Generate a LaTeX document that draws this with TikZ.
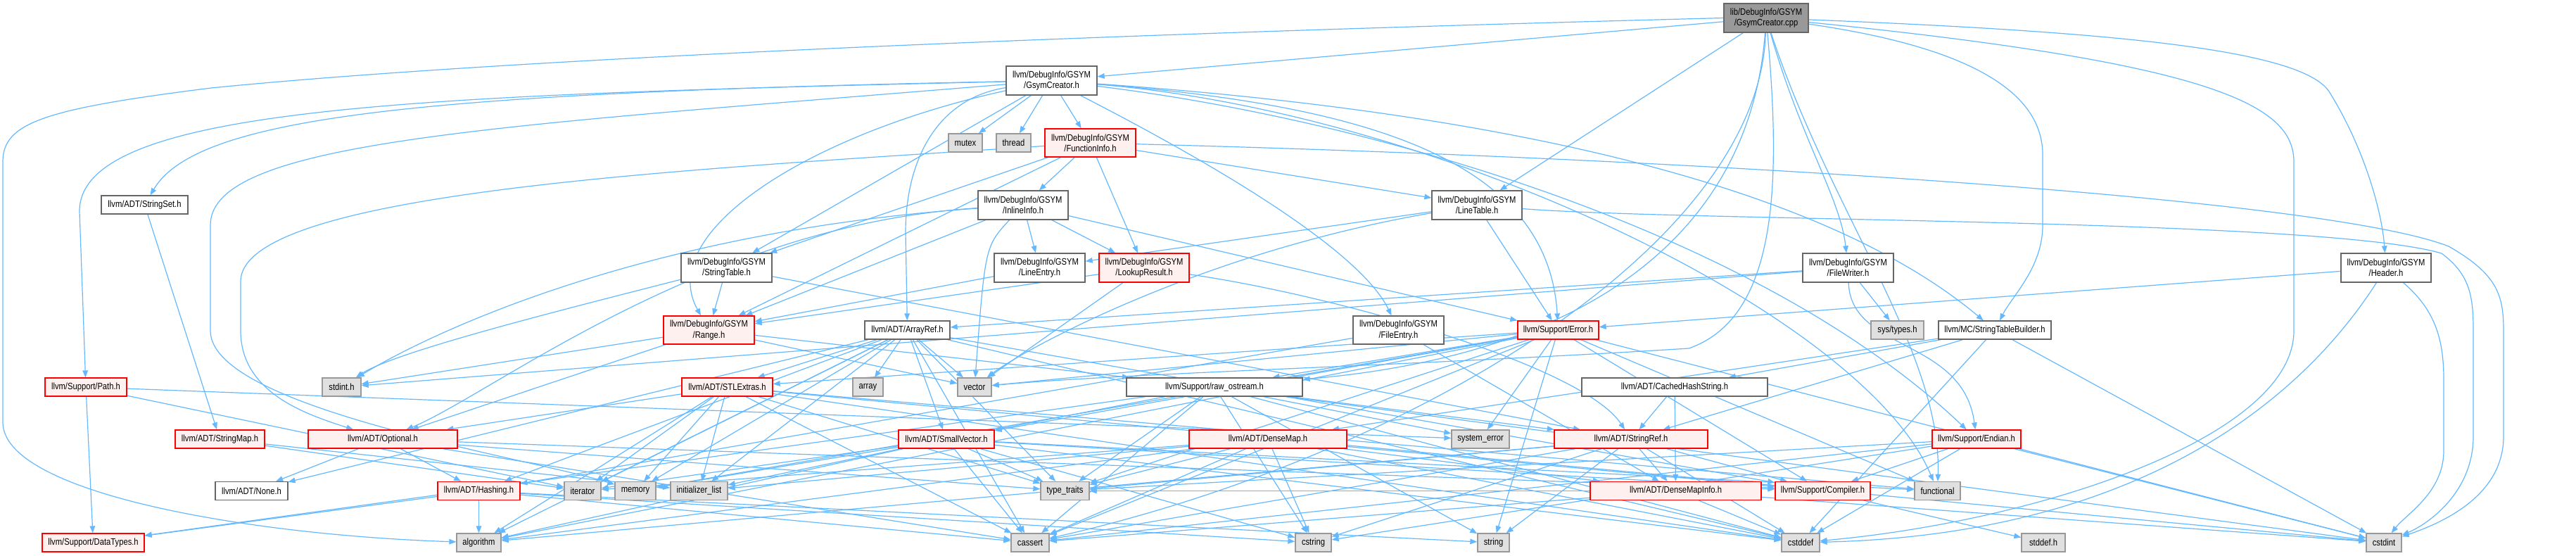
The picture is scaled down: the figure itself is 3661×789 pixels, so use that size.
\documentclass[tikz,border=0pt]{standalone}
\usepackage{fontspec}
\setmainfont{Liberation Sans}[FakeStretch=0.85]
\usetikzlibrary{arrows.meta}
\definecolor{edgec}{HTML}{63B8FF}
\definecolor{redfill}{HTML}{FFF0F0}
\definecolor{sysfill}{HTML}{E0E0E0}
\definecolor{bord}{HTML}{666666}
\definecolor{sysbord}{HTML}{999999}
\definecolor{rootfill}{HTML}{999999}
\pgfdeclarelayer{bg}\pgfsetlayers{bg,main}
\tikzset{
  base/.style={draw=bord, fill=white, line width=0.65pt, inner sep=0pt, align=center, font=\fontsize{6.6pt}{7.6pt}\selectfont},
  wbox/.style={base},
  rbox/.style={base, draw=red, fill=redfill},
  gbox/.style={base, draw=sysbord, fill=sysfill},
  rootbox/.style={base, fill=rootfill},
  sz/.style 2 args={minimum width=#1*0.5pt, minimum height=#2*0.5pt},
  e/.style={draw=edgec, line width=0.6pt, -{Triangle[length=5pt,width=3.8pt]}},
}
\begin{document}
\begin{tikzpicture}[x=0.5pt,y=-0.5pt]
\useasboundingbox (0,0) rectangle (3661,789);
\node[rootbox, sz={120}{41}] (root) at (2510,25.5) {lib/DebugInfo/GSYM\\/GsymCreator.cpp};
\node[wbox, sz={129}{41}] (gc) at (1494.5,114.5) {llvm/DebugInfo/GSYM\\/GsymCreator.h};
\node[gbox, sz={48}{26}] (mutex) at (1372,203) {mutex};
\node[gbox, sz={49}{26}] (thread) at (1440.5,203) {thread};
\node[rbox, sz={129}{40}] (fi) at (1549.5,203) {llvm/DebugInfo/GSYM\\/FunctionInfo.h};
\node[wbox, sz={128}{41}] (ii) at (1454,291.5) {llvm/DebugInfo/GSYM\\/InlineInfo.h};
\node[wbox, sz={129}{41}] (le) at (1477.5,380.5) {llvm/DebugInfo/GSYM\\/LineEntry.h};
\node[rbox, sz={128}{41}] (lr) at (1626,380.5) {llvm/DebugInfo/GSYM\\/LookupResult.h};
\node[wbox, sz={128}{41}] (lt) at (2099,291.5) {llvm/DebugInfo/GSYM\\/LineTable.h};
\node[wbox, sz={129}{41}] (fw) at (2626.5,380.5) {llvm/DebugInfo/GSYM\\/FileWriter.h};
\node[wbox, sz={128}{41}] (hd) at (3391,380.5) {llvm/DebugInfo/GSYM\\/Header.h};
\node[wbox, sz={123}{26}] (sset) at (205.5,291) {llvm/ADT/StringSet.h};
\node[wbox, sz={129}{41}] (stab) at (1032.5,380.5) {llvm/DebugInfo/GSYM\\/StringTable.h};
\node[rbox, sz={129}{40}] (rng) at (1007.5,469) {llvm/DebugInfo/GSYM\\/Range.h};
\node[wbox, sz={121}{26}] (aref) at (1289.5,469) {llvm/ADT/ArrayRef.h};
\node[wbox, sz={129}{40}] (fe) at (1987.5,469) {llvm/DebugInfo/GSYM\\/FileEntry.h};
\node[rbox, sz={115}{26}] (err) at (2214.5,469) {llvm/Support/Error.h};
\node[gbox, sz={75}{26}] (systypes) at (2696.5,469) {sys/types.h};
\node[wbox, sz={160}{26}] (stb) at (2835,469) {llvm/MC/StringTableBuilder.h};
\node[rbox, sz={116}{26}] (path) at (122,550) {llvm/Support/Path.h};
\node[gbox, sz={55}{26}] (stdinth) at (485.5,550) {stdint.h};
\node[rbox, sz={129}{26}] (stl) at (1033.5,550) {llvm/ADT/STLExtras.h};
\node[gbox, sz={43}{26}] (array) at (1233.5,550) {array};
\node[gbox, sz={48}{26}] (vector) at (1385,550) {vector};
\node[wbox, sz={250}{26}] (ros) at (1726,550) {llvm/Support/raw\_ostream.h};
\node[wbox, sz={264}{26}] (chs) at (2380,550) {llvm/ADT/CachedHashString.h};
\node[rbox, sz={127}{26}] (smap) at (312.5,624) {llvm/ADT/StringMap.h};
\node[rbox, sz={212}{26}] (opt) at (544,624) {llvm/ADT/Optional.h};
\node[rbox, sz={136}{26}] (svec) at (1345,624) {llvm/ADT/SmallVector.h};
\node[rbox, sz={224}{26}] (dmap) at (1802,624) {llvm/ADT/DenseMap.h};
\node[gbox, sz={82}{26}] (syserr) at (2104,624) {system\_error};
\node[rbox, sz={218}{26}] (sref) at (2318,624) {llvm/ADT/StringRef.h};
\node[rbox, sz={126}{26}] (endian) at (2809,624) {llvm/Support/Endian.h};
\node[wbox, sz={103}{26}] (none) at (357.5,697.5) {llvm/ADT/None.h};
\node[rbox, sz={117}{26}] (hash) at (680.5,697.5) {llvm/ADT/Hashing.h};
\node[gbox, sz={52}{26}] (iter) at (828,697.5) {iterator};
\node[gbox, sz={58}{26}] (memory) at (903,697.5) {memory};
\node[gbox, sz={81}{26}] (initl) at (993.5,697.5) {initializer\_list};
\node[gbox, sz={69}{26}] (tt) at (1513.5,697.5) {type\_traits};
\node[rbox, sz={243}{26}] (dmi) at (2381.5,697.5) {llvm/ADT/DenseMapInfo.h};
\node[rbox, sz={135}{26}] (comp) at (2590.5,697.5) {llvm/Support/Compiler.h};
\node[gbox, sz={65}{26}] (func) at (2753.5,697.5) {functional};
\node[rbox, sz={145}{26}] (dtypes) at (132.5,771) {llvm/Support/DataTypes.h};
\node[gbox, sz={63}{26}] (algo) at (680.5,771) {algorithm};
\node[gbox, sz={54}{26}] (cassert) at (1464,771) {cassert};
\node[gbox, sz={51}{26}] (cstring) at (1866.5,771) {cstring};
\node[gbox, sz={45}{26}] (string) at (2122.5,771) {string};
\node[gbox, sz={54}{26}] (cstddef) at (2559,771) {cstddef};
\node[gbox, sz={62}{26}] (stddefh) at (2904,771) {stddef.h};
\node[gbox, sz={50}{26}] (cstdint) at (3388,771) {cstdint};

\begin{pgfonlayer}{bg}
% root
\draw[e] (root) -- (gc);
\draw[e] (root.west) .. controls (1500,50) and (700,85) .. (300,125) .. controls (60,155) and (4,175) .. (4,230) -- (4,600) .. controls (4,700) and (350,760) .. (algo);
\draw[e] (root) .. controls (2560,200) and (2615,280) .. (fw);
\draw[e] (root) .. controls (3000,45) and (3270,70) .. (3310,130) .. controls (3360,210) and (3385,300) .. (hd);
\draw[e] (root) -- (lt);
\draw[e] (root) .. controls (2820,70) and (2903,140) .. (2903,220) -- (2903,320) .. controls (2903,380) and (2860,420) .. (stb);
\draw[e] (root) .. controls (3150,90) and (3260,150) .. (3260,230) -- (3260,470) .. controls (3260,620) and (2900,740) .. (cstddef);
\draw[e] (root) .. controls (2490,300) and (2300,500) .. (ros);
\draw[e] (root) .. controls (2500,350) and (2000,650) .. (cassert);
\draw[e] (root) .. controls (2530,250) and (2530,450) .. (2400,495) .. controls (2000,520) and (1600,530) .. (vector);
\draw[e] (root) .. controls (2600,300) and (2760,500) .. (func);
% GsymCreator.h
\draw[e] (gc) -- (mutex);
\draw[e] (gc) -- (thread);
\draw[e] (gc) -- (fi);
\draw[e] (gc) .. controls (600,132) and (280,165) .. (sset);
\draw[e] (gc) .. controls (600,135) and (113,150) .. (113,300) -- (path);
\draw[e] (gc) .. controls (700,180) and (299,200) .. (299,320) -- (299,470) .. controls (299,580) and (750,650) .. (memory);
\draw[e] (gc) .. controls (1150,190) and (930,330) .. (rng);
\draw[e] (gc) .. controls (1330,140) and (1287,230) .. (1287,330) -- (aref);
\draw[e] (gc) .. controls (1700,220) and (1930,350) .. (fe);
\draw[e] (gc) -- (stab);
\draw[e] (gc) .. controls (1950,150) and (2200,230) .. (err);
\draw[e] (gc) .. controls (1950,170) and (2500,330) .. (endian);
\draw[e] (gc) .. controls (2000,150) and (2550,230) .. (stb);
\draw[e] (gc) .. controls (2050,160) and (2650,450) .. (func);
% FunctionInfo.h
\draw[e] (fi) -- (ii);
\draw[e] (fi) -- (lr);
\draw[e] (fi) -- (lt);
\draw[e] (fi) -- (rng);
\draw[e] (fi) -- (stab);
\draw[e] (fi) .. controls (1000,240) and (342,270) .. (342,400) -- (342,470) .. controls (342,560) and (440,590) .. (opt);
\draw[e] (fi) .. controls (2400,225) and (3300,280) .. (3480,350) .. controls (3550,390) and (3558,420) .. (3558,470) -- (3558,620) .. controls (3558,700) and (3480,740) .. (cstdint);
% InlineInfo.h
\draw[e] (ii) -- (le);
\draw[e] (ii) -- (lr);
\draw[e] (ii) -- (err);
\draw[e] (ii) .. controls (1400,350) .. (vector);
\draw[e] (ii) -- (rng);
\draw[e] (ii) .. controls (1000,320) and (700,560) .. (opt);
\draw[e] (ii) .. controls (900,330) and (600,480) .. (stdinth);
% LineEntry / LookupResult
\draw[e] (le) -- (rng);
\draw[e] (lr) -- (rng);
\draw[e] (lr) -- (vector);
\draw[e] (lr) .. controls (1900,420) and (2250,520) .. (sref);
% LineTable.h
\draw[e] (lt) -- (le);
\draw[e] (lt) -- (err);
\draw[e] (lt) .. controls (1700,360) and (1450,500) .. (vector);
\draw[e] (lt) .. controls (2400,315) and (3300,310) .. (3470,360) .. controls (3510,390) and (3515,420) .. (3515,470) -- (3515,620) .. controls (3515,700) and (3450,745) .. (cstdint);
% FileWriter.h
\draw[e] (fw) -- (aref);
\draw[e] (fw) .. controls (2630,500) and (2790,480) .. (endian);
\draw[e] (fw) -- (systypes);
\draw[e] (fw) -- (stdinth);
% Header.h
\draw[e] (hd) -- (err);
\draw[e] (hd) .. controls (3250,600) and (3000,760) .. (cstddef);
\draw[e] (hd) .. controls (3460,440) and (3473,480) .. (3473,540) -- (3473,640) .. controls (3473,700) and (3420,730) .. (cstdint);
% others
\draw[e] (sset) -- (smap);
\draw[e] (stab) -- (rng);
\draw[e] (stab) .. controls (800,440) and (560,500) .. (stdinth);
\draw[e] (stab) -- (sref);
\draw[e] (rng) -- (stdinth);
\draw[e] (rng) -- (opt);
\draw[e] (rng) -- (ros);
\draw[e] (rng) -- (vector);
\foreach \t in {array,vector,svec,stl,tt,hash,cassert,algo,comp,cstddef,initl,iter,memory,none} \draw[e] (aref) -- (\t);
\draw[e] (fe) -- (dmi);
\draw[e] (fe) -- (hash);
\foreach \t in {syserr,ros,stl,svec,comp,cstdint,cassert,func,memory,string,tt,vector,algo} \draw[e] (err) -- (\t);
\foreach \t in {chs,dmap,sref,cstddef,cstdint} \draw[e] (stb) -- (\t);
\foreach \t in {dtypes,iter,syserr} \draw[e] (path) -- (\t);
\foreach \t in {svec,sref,dtypes,cassert,cstddef,cstdint,cstring,string,syserr,tt} \draw[e] (ros) -- (\t);
\draw[e] (chs) -- (sref);
\draw[e] (chs) -- (dmi);
\draw[e] (smap) -- (initl);
\draw[e] (smap) -- (iter);
\foreach \t in {none,hash,comp,tt,cassert} \draw[e] (opt) -- (\t);
\foreach \t in {comp,algo,cassert,cstddef,cstring,func,initl,iter,memory,tt} \draw[e] (svec) -- (\t);
\foreach \t in {dmi,comp,algo,cassert,cstddef,cstring,initl,iter,tt} \draw[e] (dmap) -- (\t);
\foreach \t in {dmi,comp,algo,cassert,cstddef,cstring,string,tt} \draw[e] (sref) -- (\t);
\foreach \t in {comp,cassert,cstddef,cstdint,cstring,tt} \draw[e] (endian) -- (\t);
\foreach \t in {opt,iter,memory,initl,cassert,cstddef,cstdint,func,algo,tt} \draw[e] (stl) -- (\t);
\foreach \t in {dtypes,algo,cassert,cstring,string} \draw[e] (hash) -- (\t);
\foreach \t in {cassert,cstddef,cstdint,tt} \draw[e] (dmi) -- (\t);
\draw[e] (comp) -- (stddefh);
\end{pgfonlayer}
\end{tikzpicture}
\end{document}
